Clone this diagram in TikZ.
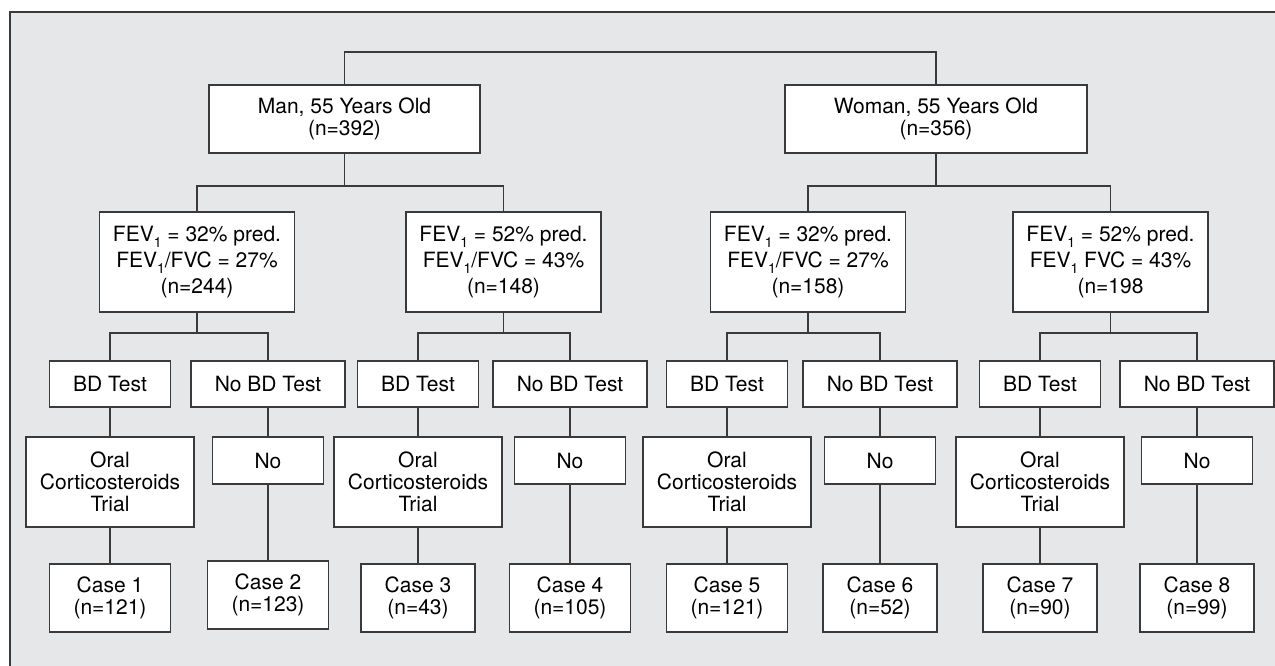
\documentclass[tikz,border=0pt]{standalone}
\usepackage{fontspec}
\setmainfont{TeX Gyre Heros}
\definecolor{panelgray}{HTML}{E6E7E8}
\definecolor{linegray}{HTML}{3A3A3A}
\newcommand{\fev}{FEV\raisebox{-0.55ex}{\fontsize{14}{14}\selectfont 1}}
\tikzset{
  box/.style={draw=linegray, fill=white, line width=1.2pt, align=center, inner sep=0pt, font=\fontsize{21}{22}\selectfont},
  fevbox/.style={box, minimum width=195pt, minimum height=100pt, font=\fontsize{21}{26}\selectfont},
  bdbox/.style={box, minimum width=121pt, minimum height=46pt},
  nobdbox/.style={box, minimum width=154pt, minimum height=46pt},
  oralbox/.style={box, minimum width=168pt, minimum height=90pt},
  nobox/.style={box, minimum width=111pt, minimum height=47pt},
  casebox/.style={box, minimum width=121pt, minimum height=68pt},
  conn/.style={draw=linegray, line width=1.2pt}
}
\begin{document}
\begin{tikzpicture}[x=1pt,y=-1pt]
\path[use as bounding box, clip] (0,0) rectangle (1275,666);
\fill[white] (0,0) rectangle (1275,666);
\draw[fill=panelgray, draw=linegray, line width=1.2pt] (10,12) rectangle (1295,690); % panel

% top level
\node[box, minimum width=271pt, minimum height=68pt] (man) at (344.5,119) {Man, 55 Years Old\\(n=392)};
\node[box, minimum width=302pt, minimum height=68pt] (woman) at (936,119) {Woman, 55 Years Old\\(n=356)};
\draw[conn] (man.north) |- (woman.north |- 0,52) -- (woman.north);

% lung function
\node[fevbox] (fevA) at (197,262) {\fev{} = 32\% pred.\\\fev/FVC = 27\%\\(n=244)};
\node[fevbox] (fevB) at (503.5,262) {\fev{} = 52\% pred.\\\fev/FVC = 43\%\\(n=148)};
\node[fevbox] (fevC) at (808,262) {\fev{} = 32\% pred.\\\fev/FVC = 27\%\\(n=158)};
\node[fevbox] (fevD) at (1110.5,262) {\fev{} = 52\% pred.\\\fev{} FVC = 43\%\\(n=198};

\draw[conn] (man.south) -- (man.south |- 0,186);
\draw[conn] (fevA.north) |- (man.south |- 0,186) -| (fevB.north);
\draw[conn] (woman.south) -- (woman.south |- 0,186);
\draw[conn] (fevC.north) |- (woman.south |- 0,186) -| (fevD.north);

% BD test or not
\node[bdbox] (bdA) at (110,384) {BD Test};
\node[nobdbox] (nobdA) at (268,384) {No BD Test};
\node[bdbox] (bdB) at (418,384) {BD Test};
\node[nobdbox] (nobdB) at (570,384) {No BD Test};
\node[bdbox] (bdC) at (727,384) {BD Test};
\node[nobdbox] (nobdC) at (880,384) {No BD Test};
\node[bdbox] (bdD) at (1040,384) {BD Test};
\node[nobdbox] (nobdD) at (1197,384) {No BD Test};

\draw[conn] (fevA.south) -- (fevA.south |- 0,333);
\draw[conn] (bdA.north) |- (fevA.south |- 0,333) -| (nobdA.north);
\draw[conn] (fevB.south) -- (fevB.south |- 0,333);
\draw[conn] (bdB.north) |- (fevB.south |- 0,333) -| (nobdB.north);
\draw[conn] (fevC.south) -- (fevC.south |- 0,333);
\draw[conn] (bdC.north) |- (fevC.south |- 0,333) -| (nobdC.north);
\draw[conn] (fevD.south) -- (fevD.south |- 0,333);
\draw[conn] (bdD.north) |- (fevD.south |- 0,333) -| (nobdD.north);

% steroid trial
\node[oralbox] (oralA) at (110,482) {Oral\\Corticosteroids\\Trial};
\node[nobox] (noA) at (268,460.5) {No};
\node[oralbox] (oralB) at (418,482) {Oral\\Corticosteroids\\Trial};
\node[nobox] (noB) at (570,460.5) {No};
\node[oralbox] (oralC) at (727,482) {Oral\\Corticosteroids\\Trial};
\node[nobox] (noC) at (880,460.5) {No};
\node[oralbox] (oralD) at (1040,482) {Oral\\Corticosteroids\\Trial};
\node[nobox] (noD) at (1197,460.5) {No};

% cases
\node[casebox] (caseA) at (110,598) {Case 1\\(n=121)};
\node[casebox] (caseB) at (268,595) {Case 2\\(n=123)};
\node[casebox, minimum width=114pt] (caseC) at (418,598) {Case 3\\(n=43)};
\node[casebox] (caseD) at (570,598) {Case 4\\(n=105)};
\node[casebox] (caseE) at (727,598) {Case 5\\(n=121)};
\node[casebox, minimum width=114pt] (caseF) at (880,598) {Case 6\\(n=52)};
\node[casebox, minimum width=114pt] (caseG) at (1040,598) {Case 7\\(n=90)};
\node[casebox, minimum width=114pt] (caseH) at (1197,598) {Case 8\\(n=99)};

\draw[conn] (bdA.south) -- (oralA.north);
\draw[conn] (oralA.south) -- (caseA.north);
\draw[conn] (nobdA.south) -- (noA.north);
\draw[conn] (noA.south) -- (caseB.north);
\draw[conn] (bdB.south) -- (oralB.north);
\draw[conn] (oralB.south) -- (caseC.north);
\draw[conn] (nobdB.south) -- (noB.north);
\draw[conn] (noB.south) -- (caseD.north);
\draw[conn] (bdC.south) -- (oralC.north);
\draw[conn] (oralC.south) -- (caseE.north);
\draw[conn] (nobdC.south) -- (noC.north);
\draw[conn] (noC.south) -- (caseF.north);
\draw[conn] (bdD.south) -- (oralD.north);
\draw[conn] (oralD.south) -- (caseG.north);
\draw[conn] (nobdD.south) -- (noD.north);
\draw[conn] (noD.south) -- (caseH.north);
\end{tikzpicture}
\end{document}
